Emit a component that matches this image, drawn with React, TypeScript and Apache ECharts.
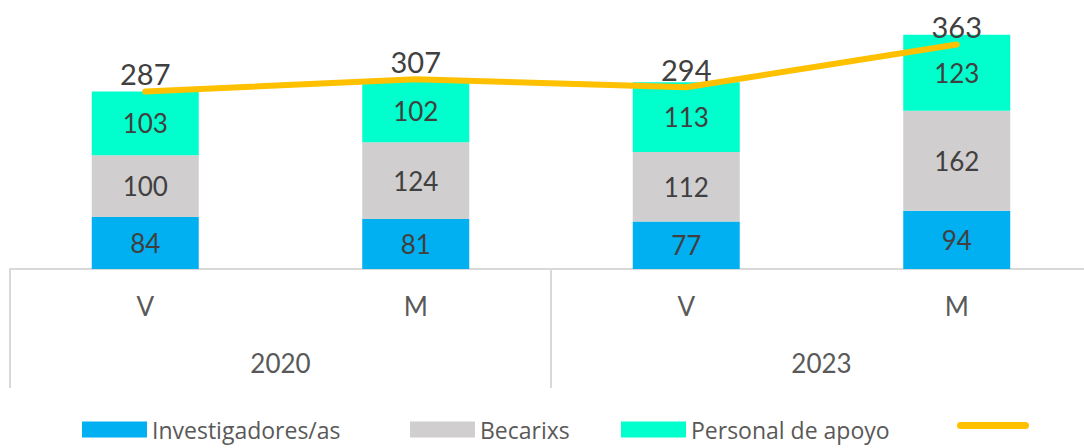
import React, { useEffect, useRef } from "react";
import * as echarts from "echarts";

const categories = ["V", "M", "V", "M"];
const years = ["2020", "2023"];
const investigadores = [84, 81, 77, 94];
const becarixs = [100, 124, 112, 162];
const personal = [103, 102, 113, 123];
const totals = [287, 307, 294, 363];

const FONT = "Lato, 'Open Sans', sans-serif";
const LEGEND_FONT = "'Open Sans', Lato, sans-serif";
const TXT = "#404040";

export default function App() {
  const ref = useRef<HTMLDivElement>(null);
  useEffect(() => {
    const chart = echarts.init(ref.current!, null, { renderer: "svg" });
    const barLabel = { show: true, position: "inside", color: TXT, fontSize: 26, fontFamily: FONT };
    const legendBase = {
      bottom: 2,
      itemWidth: 65,
      itemHeight: 16,
      textStyle: { color: "#595959", fontSize: 23, fontFamily: LEGEND_FONT },
    };
    chart.setOption({
      animation: false,
      textStyle: { fontFamily: FONT },
      legend: [
        { ...legendBase, left: 77, data: [{ name: "Investigadores/as", icon: "rect" }] },
        { ...legendBase, left: 405, data: [{ name: "Becarixs", icon: "rect" }] },
        { ...legendBase, left: 616, data: [{ name: "Personal de apoyo", icon: "rect" }] },
        {
          ...legendBase,
          left: 952,
          bottom: 6,
          itemWidth: 72,
          itemHeight: 7,
          data: [
            {
              name: " ",
              icon: "path://M3.5,0 L68.5,0 A3.5,3.5 0 0 1 68.5,7 L3.5,7 A3.5,3.5 0 0 1 3.5,0 Z",
              itemStyle: { color: "#FFC000", borderWidth: 0 },
            },
          ],
        },
      ],
      grid: { left: 10, top: 0, width: 1082, height: 269 },
      xAxis: [
        {
          type: "category",
          data: categories,
          axisLine: { lineStyle: { color: "#D9D9D9", width: 2 } },
          axisTick: { show: false },
          axisLabel: { color: "#595959", fontSize: 26, margin: 24, fontFamily: FONT },
        },
        {
          type: "category",
          data: years,
          position: "bottom",
          axisLine: { show: false },
          axisTick: { show: true, length: 119, lineStyle: { color: "#D9D9D9", width: 2 } },
          axisLabel: { color: "#595959", fontSize: 26, margin: 81, fontFamily: FONT },
        },
      ],
      yAxis: { type: "value", min: 0, max: 435, show: false, splitLine: { show: false } },
      series: [
        {
          name: "Investigadores/as",
          type: "bar",
          stack: "a",
          data: investigadores,
          barWidth: 107,
          itemStyle: { color: "#00B0F0" },
          label: barLabel,
        },
        {
          name: "Becarixs",
          type: "bar",
          stack: "a",
          data: becarixs,
          itemStyle: { color: "#D0CECE" },
          label: barLabel,
        },
        {
          name: "Personal de apoyo",
          type: "bar",
          stack: "a",
          data: personal,
          itemStyle: { color: "#00FFCC" },
          label: barLabel,
        },
        {
          name: " ",
          type: "line",
          data: totals,
          symbol: "circle",
          symbolSize: 0.1,
          showSymbol: true,
          lineStyle: { color: "#FFC000", width: 6, cap: "round" },
          itemStyle: { color: "#FFC000" },
          label: { show: true, position: "top", distance: 3, color: TXT, fontSize: 29, fontFamily: FONT },
          z: 5,
        },
      ],
    });
    return () => chart.dispose();
  }, []);
  return (
    <div style={{ position: "absolute", left: 0, top: 0, width: 1084, height: 448, overflow: "hidden" }}>
      <div ref={ref} style={{ width: 1100, height: 448 }} />
    </div>
  );
}
